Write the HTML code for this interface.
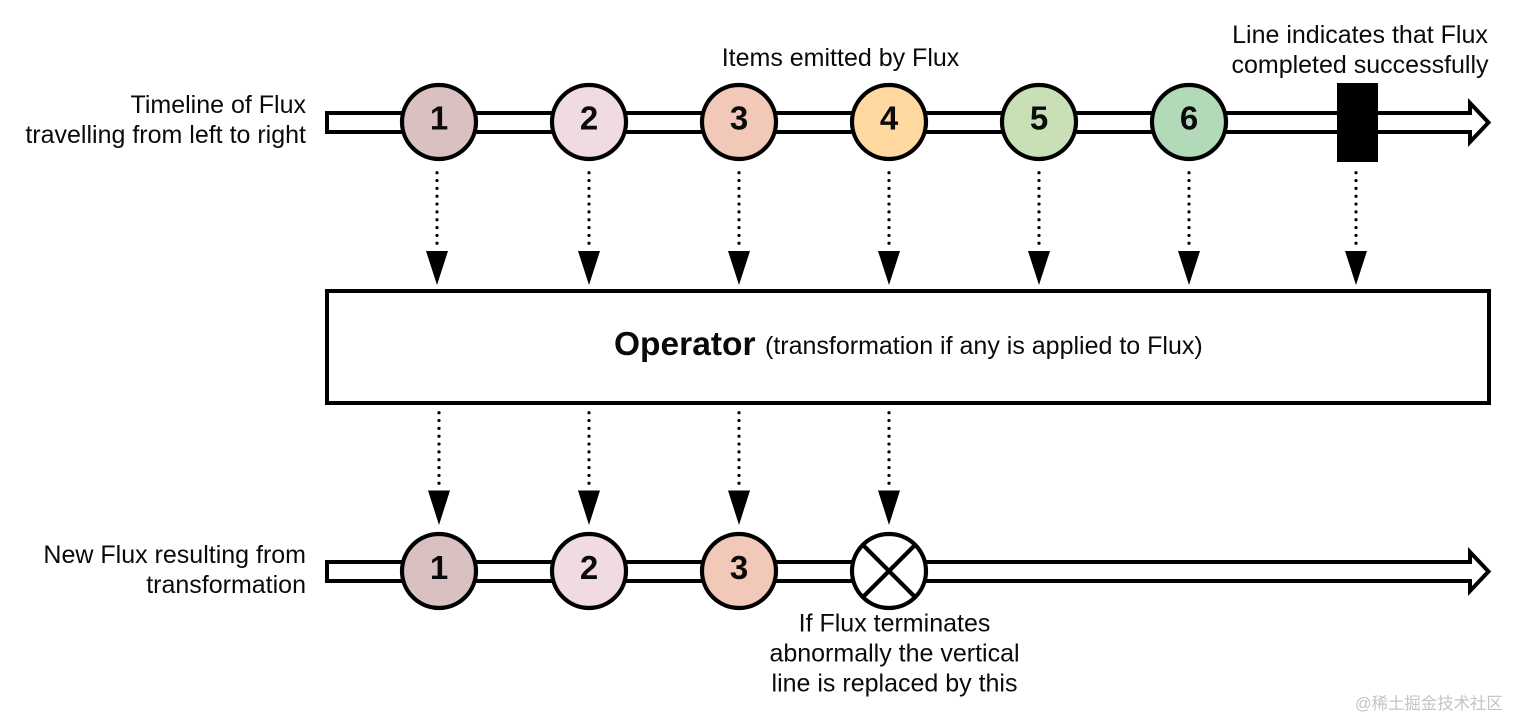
<!DOCTYPE html>
<html><head><meta charset="utf-8"><style>
html,body{margin:0;padding:0;background:#fff;width:1521px;height:720px;overflow:hidden}
svg{display:block}
text{font-family:"Liberation Sans","Noto Sans CJK SC",sans-serif;fill:#0a0a0a;font-size:25px}
.n{font-size:33px;font-weight:bold;text-anchor:middle}
.e{text-anchor:end}
.m{text-anchor:middle}
</style></head><body>
<svg width="1521" height="720" viewBox="0 0 1521 720" xmlns="http://www.w3.org/2000/svg">
<defs>
<g id="arrowBar"><path d="M327 113H1470V103L1488.5 122.5L1470 142V132H327Z" fill="#fff" stroke="#000" stroke-width="4"/></g>
<g id="down"><line x1="0" y1="172.7" x2="0" y2="244" stroke="#000" stroke-width="3.2" stroke-linecap="round" stroke-dasharray="0 7.84"/><path d="M-11 251H11L0 285Z" fill="#000"/></g>
<g id="downB"><line x1="0" y1="412.7" x2="0" y2="484" stroke="#000" stroke-width="3.2" stroke-linecap="round" stroke-dasharray="0 7.84"/><path d="M-11 490.5H11L0 525Z" fill="#000"/></g>
</defs>
<use href="#arrowBar"/>
<use href="#arrowBar" y="449"/>
<g stroke="#000" stroke-width="4.2">
<circle cx="439" cy="122" r="37" fill="#d9c1c1"/>
<circle cx="589" cy="122" r="37" fill="#efdbe1"/>
<circle cx="739" cy="122" r="37" fill="#f2c9b8"/>
<circle cx="889" cy="122" r="37" fill="#ffd9a0"/>
<circle cx="1039" cy="122" r="37" fill="#c9dfb6"/>
<circle cx="1189" cy="122" r="37" fill="#b2d9b8"/>
<circle cx="439" cy="571" r="37" fill="#d9c1c1"/>
<circle cx="589" cy="571" r="37" fill="#efdbe1"/>
<circle cx="739" cy="571" r="37" fill="#f2c9b8"/>
<circle cx="889" cy="571" r="37" fill="#fff"/>
<path d="M863 545L915 597M915 545L863 597" fill="none"/>
</g>
<rect x="1337" y="83" width="41" height="79" fill="#000"/>
<use href="#down" x="437"/><use href="#down" x="589"/><use href="#down" x="739"/><use href="#down" x="889"/><use href="#down" x="1039"/><use href="#down" x="1189"/><use href="#down" x="1356"/>
<use href="#downB" x="439"/><use href="#downB" x="589"/><use href="#downB" x="739"/><use href="#downB" x="889"/>
<rect x="327" y="291" width="1162" height="112" fill="#fff" stroke="#000" stroke-width="4"/>
<text class="n" x="439" y="129.5">1</text>
<text class="n" x="589" y="129.5">2</text>
<text class="n" x="739" y="129.5">3</text>
<text class="n" x="889" y="129.5">4</text>
<text class="n" x="1039" y="129.5">5</text>
<text class="n" x="1189" y="129.5">6</text>
<text class="n" x="439" y="579">1</text>
<text class="n" x="589" y="579">2</text>
<text class="n" x="739" y="579">3</text>
<text class="e" x="306" y="113">Timeline of Flux</text>
<text class="e" x="306" y="143">travelling from left to right</text>
<text class="e" x="306" y="563">New Flux resulting from</text>
<text class="e" x="306" y="593">transformation</text>
<text class="m" x="840.5" y="66">Items emitted by Flux</text>
<text class="m" x="1360" y="43">Line indicates that Flux</text>
<text class="m" x="1360" y="73">completed successfully</text>
<text x="614" y="355" style="font-size:33.5px;font-weight:bold">Operator</text>
<text x="765" y="354">(transformation if any is applied to Flux)</text>
<text class="m" x="894.5" y="631.5">If Flux terminates</text>
<text class="m" x="894.5" y="661.5">abnormally the vertical</text>
<text class="m" x="894.5" y="691.5">line is replaced by this</text>
<text x="1355" y="709" style="font-size:16.4px;fill:#c4c4c4">@稀土掘金技术社区</text>
</svg>
</body></html>
